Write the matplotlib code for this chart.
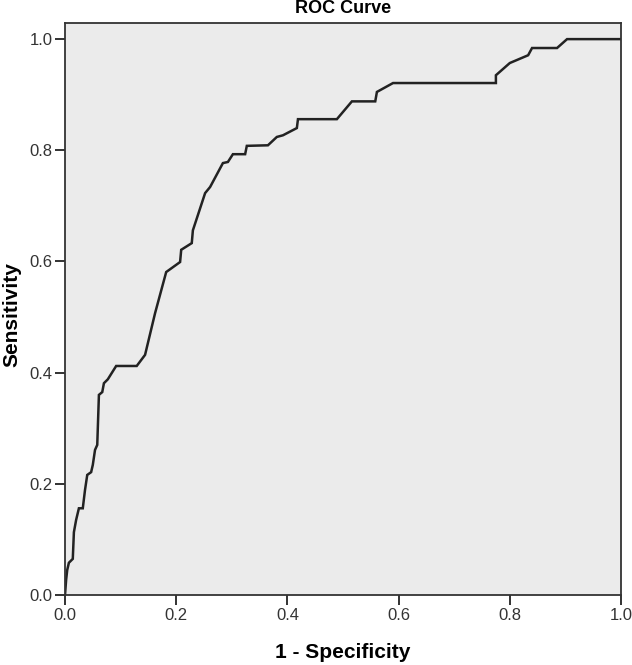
import numpy as np
import matplotlib
matplotlib.use("Agg")
import matplotlib.pyplot as plt

# ROC curve points
fpr = [0.000, 0.002, 0.004, 0.007, 0.014, 0.016, 0.020, 0.025, 0.032, 0.036,
       0.040, 0.047, 0.050, 0.054, 0.058, 0.061, 0.067, 0.070, 0.077, 0.092,
       0.129, 0.144, 0.162, 0.182, 0.207, 0.209, 0.228, 0.230, 0.252, 0.261,
       0.284, 0.293, 0.302, 0.324, 0.327, 0.365, 0.381, 0.392, 0.417, 0.419,
       0.489, 0.516, 0.558, 0.561, 0.590, 0.775, 0.775, 0.800, 0.833, 0.840,
       0.885, 0.903, 1.000]
tpr = [0.000, 0.027, 0.045, 0.058, 0.065, 0.113, 0.135, 0.156, 0.156, 0.189,
       0.216, 0.221, 0.234, 0.261, 0.270, 0.360, 0.365, 0.381, 0.388, 0.412,
       0.412, 0.432, 0.507, 0.581, 0.599, 0.621, 0.633, 0.656, 0.723, 0.734,
       0.777, 0.779, 0.793, 0.793, 0.808, 0.809, 0.824, 0.827, 0.840, 0.856,
       0.856, 0.888, 0.888, 0.905, 0.921, 0.921, 0.935, 0.957, 0.971, 0.984,
       0.984, 1.000, 1.000]
ticks = [0.0, 0.2, 0.4, 0.6, 0.8, 1.0]

plt.rcParams['font.family'] = ['Liberation Sans', 'DejaVu Sans']

fig = plt.figure(figsize=(6.32, 6.65), dpi=100)
ax = fig.add_axes([65/632, 70/665, 556/632, 572/665])
ax.set_facecolor('#ebebeb')

ax.plot(fpr, tpr, color='#222222', linewidth=1.8, solid_joinstyle='miter')

ax.set_xlim(0, 1)
ax.set_ylim(0, 1.029)
ax.set_xticks(ticks)
ax.set_yticks(ticks)
ax.set_xticklabels([f"{t:.1f}" for t in ticks])
ax.set_yticklabels([f"{t:.1f}" for t in ticks])
ax.tick_params(direction='out', length=7, width=1.3, labelsize=12,
               labelcolor='#333333', color='#222222', pad=2)
for s in ax.spines.values():
    s.set_linewidth(1.3)
    s.set_color('#333333')

ax.set_xlabel('1 - Specificity', fontsize=15, fontweight='bold')
ax.xaxis.set_label_coords(0.5, -0.101)
ax.xaxis.label.set_va('center')
ax.set_ylabel('Sensitivity', fontsize=15, fontweight='bold')
ax.yaxis.set_label_coords(-0.095, 0.49)
ax.yaxis.label.set_va('center')

ax.text(0.5, 1.026, 'ROC Curve', transform=ax.transAxes, ha='center',
        va='center', fontsize=13, fontweight='bold')

fig.savefig('out.png', dpi=100)
